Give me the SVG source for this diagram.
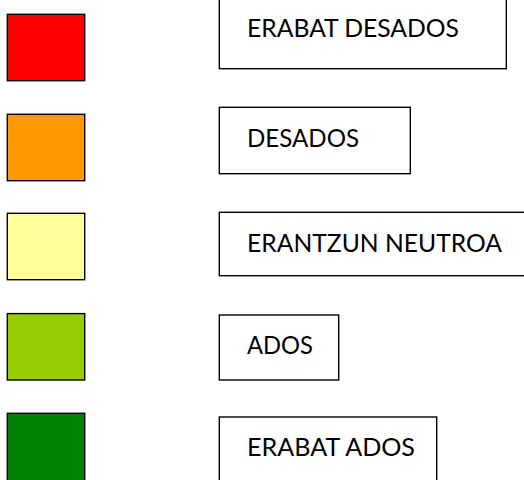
<svg xmlns="http://www.w3.org/2000/svg" width="524" height="480" viewBox="0 0 524 480">
<style>
.sw{stroke:#000;stroke-width:1.4}
.bx{fill:#fff;stroke:#000;stroke-width:1.4}
.t{font-family:Lato,"Open Sans","Liberation Sans",sans-serif;font-size:25px;fill:#000}
</style>
<rect width="524" height="480" fill="#fff"/>
<g id="swatch-red"><rect class="sw" x="7.3" y="14.3" width="77.4" height="66.4" fill="#FF0000"/></g>
<g id="swatch-orange"><rect class="sw" x="7.3" y="114.3" width="77.4" height="66.4" fill="#FF9900"/></g>
<g id="swatch-yellow"><rect class="sw" x="7.3" y="213.3" width="77.4" height="66.4" fill="#FFFF99"/></g>
<g id="swatch-lime"><rect class="sw" x="7.3" y="313.6" width="77.4" height="66.4" fill="#99CC00"/></g>
<g id="swatch-green"><rect class="sw" x="7.3" y="413.3" width="77.4" height="80" fill="#008000"/></g>
<g id="label-1"><rect class="bx" x="219.3" y="-10" width="287" height="78.7"/><text class="t" x="247" y="37.3" textLength="212" lengthAdjust="spacingAndGlyphs">ERABAT DESADOS</text></g>
<g id="label-2"><rect class="bx" x="219.3" y="107.3" width="191" height="66.4"/><text class="t" x="247" y="146.7" textLength="112" lengthAdjust="spacingAndGlyphs">DESADOS</text></g>
<g id="label-3"><rect class="bx" x="219.3" y="212.3" width="320" height="63.4"/><text class="t" x="247" y="252" textLength="255" lengthAdjust="spacingAndGlyphs">ERANTZUN NEUTROA</text></g>
<g id="label-4"><rect class="bx" x="219.3" y="315" width="119.4" height="65"/><text class="t" x="247" y="353.7" textLength="66" lengthAdjust="spacingAndGlyphs">ADOS</text></g>
<g id="label-5"><rect class="bx" x="219.3" y="417" width="217.4" height="80"/><text class="t" x="247" y="456" textLength="168" lengthAdjust="spacingAndGlyphs">ERABAT ADOS</text></g>
<g id="connectors"/>
</svg>
